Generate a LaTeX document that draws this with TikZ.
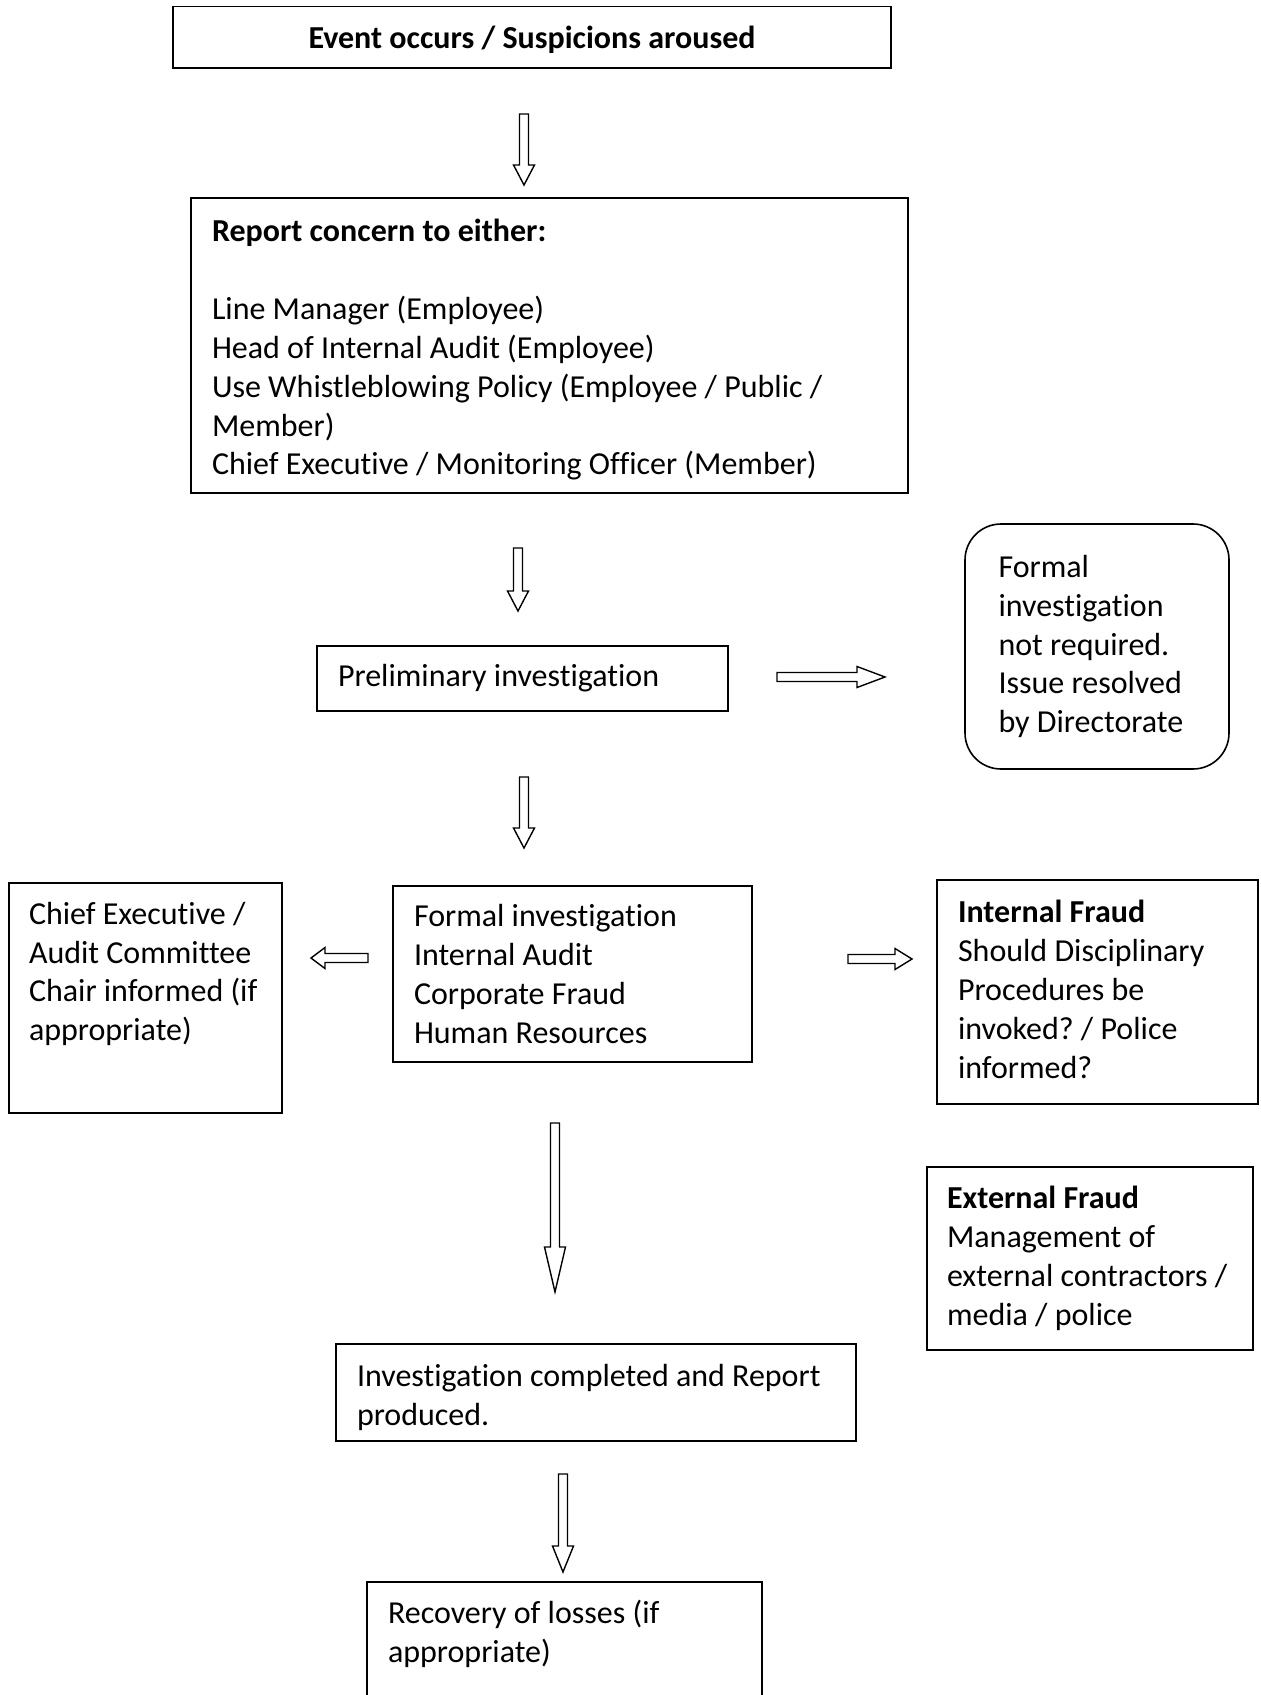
\documentclass[tikz,border=0pt]{standalone}
\usepackage{fontspec}
\setmainfont{Carlito}[Ligatures=NoCommon]
\frenchspacing
\usetikzlibrary{calc}

\tikzset{every picture/.style={line width=0.75pt}}
\tikzset{
  box/.style={draw, line width=0.8pt, outer sep=0pt, anchor=north west, align=flush left,
    inner xsep=10.5pt, inner ysep=4pt, font=\fontsize{16}{19.45}\selectfont},
  blk/.style={line width=0.7pt, to path={
    let \p1=(\tikztostart), \p2=(\tikztotarget), \p3=($(\p2)!#1!(\p1)$) in
    ($(\p1)!2.25pt!90:(\p2)$) -- ($(\p3)!2.25pt!90:(\p2)$) -- ($(\p3)!5.25pt!90:(\p2)$) -- (\p2)
    -- ($(\p3)!5.25pt!-90:(\p2)$) -- ($(\p3)!2.25pt!-90:(\p2)$) -- ($(\p1)!2.25pt!-90:(\p2)$) -- cycle}}
}

\begin{document}
\begin{tikzpicture}[x=0.5pt,y=0.5pt,yscale=-1,xscale=1]
\useasboundingbox (0,0) rectangle (1260,1695);

%Shape: Rectangle [evt]
\node[box, align=flush center, text width=338pt, minimum height=30.75pt, text height=13pt, text depth=2pt] (evt) at (173,6.5) {\textbf{Event occurs / Suspicions aroused}};
%Shape: Rectangle [rep]
\node[box, text width=337.5pt, minimum height=147.5pt, text height=15.5pt] (rep) at (191,198) {\textbf{Report concern to either:}\\[19.45pt]
Line Manager (Employee)\\ Head of Internal Audit (Employee)\\ Use Whistleblowing Policy (Employee / Public /\\ Member)\\ Chief Executive / Monitoring Officer (Member)};
%Shape: Rectangle [prel]
\node[box, text width=184.5pt, minimum height=32.5pt] (prel) at (317,646) {Preliminary investigation};
%Shape: Rounded Rect [nofm]
\node[box, rounded corners=18pt, inner xsep=16.75pt, text width=98.5pt, minimum height=122.5pt] (nofm) at (965,524) {Formal\\ investigation\\ not required.\\ Issue resolved\\ by Directorate};
%Shape: Rectangle [chief]
\node[box, inner xsep=10pt, text width=116.5pt, minimum height=115pt, text depth=85pt] (chief) at (9,883) {Chief Executive /\\ Audit Committee\\ Chair informed (if\\ appropriate)};
%Shape: Rectangle [form]
\node[box, text width=158.5pt, minimum height=88pt] (form) at (393,886) {Formal investigation\\ Internal Audit\\ Corporate Fraud\\ Human Resources};
%Shape: Rectangle [intf]
\node[box, text width=139.5pt, minimum height=112pt, text height=8.5pt] (intf) at (937,880) {\textbf{Internal Fraud}\\ Should Disciplinary\\ Procedures be\\ invoked? / Police\\ informed?};
%Shape: Rectangle [extf]
\node[box, inner xsep=10pt, text width=143pt, minimum height=91.5pt] (extf) at (927,1167) {\textbf{External Fraud}\\ Management of\\ external contractors /\\ media / police};
%Shape: Rectangle [done]
\node[box, text width=239pt, minimum height=48.5pt, text height=16.5pt] (done) at (336,1344) {Investigation completed and Report\\ produced.};
%Shape: Rectangle [recov]
\node[box, text width=176.5pt, minimum height=70pt, text depth=40.5pt] (recov) at (367,1582) {Recovery of losses (if\\ appropriate)};

%Block Arrows
\draw[blk=10pt] ($(evt.south)+(-8,46)$) to ($(rep.north)+(-25.5,-13)$);
\draw[blk=10pt] ($(rep.south)+(-31.5,55)$) to ($(prel.north)+(-4.5,-35)$);
\draw[blk=14pt] ($(prel.east)+(49,-1.5)$) to ($(nofm.west)+(-80,30.5)$);
\draw[blk=10pt] ($(prel.south)+(1.5,66)$) to ($(form.north)+(-48.5,-38)$);
\draw[blk=7pt] ($(form.west)+(-25,-16)$) to ($(chief.east)+(29,-40)$);
\draw[blk=8.5pt] ($(form.east)+(96,-15)$) to ($(intf.west)+(-25,-33)$);
\draw[blk=22.5pt] ($(form.south)+(-17.5,61)$) to ($(done.north)+(-41,-52)$);
\draw[blk=13pt] ($(done.south)+(-33,33)$) to ($(recov.north)+(-1.5,-10)$);

\end{tikzpicture}
\end{document}
